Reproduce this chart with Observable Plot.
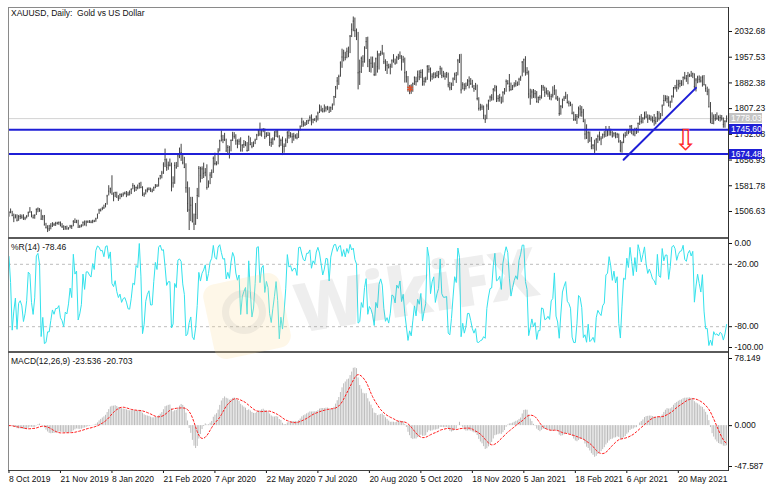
<!DOCTYPE html>
<html><head><meta charset="utf-8">
<script src="https://cdn.jsdelivr.net/npm/d3@7"></script>
<script src="https://cdn.jsdelivr.net/npm/@observablehq/plot@0.6"></script>
<style>
html,body{margin:0;padding:0;background:#fff;}
#wrap{position:relative;width:771px;height:489px;overflow:hidden;font-family:"Liberation Sans",Arial,sans-serif;}
.p{position:absolute;left:0;}
.ln{position:absolute;}
.lbl{position:absolute;font-size:8.5px;color:#111;white-space:pre;line-height:10px;}
.box{position:absolute;font-size:8.5px;color:#fff;white-space:pre;line-height:10px;height:10px;width:31px;padding-left:2px;}
</style></head><body><div id="wrap"></div>
<script>
// ---- data: daily XAUUSD bars, 8 Oct 2019 .. 1 Jul 2021 (one line = 32 bars) ----
const high = [
1506,1514,1507,1499,1497,1497,1495,1497,1496,1497,1490,1495,1505,1518,1506,1496,1497,1514,1517,1515,1511,1495,1495,1472,1465,1466,1471,1474,1472,1475,1475,1476,
1476,1471,1465,1463,1464,1459,1466,1466,1480,1485,1481,1481,1466,1468,1476,1479,1479,1479,1480,1479,1481,1481,1487,1499,1513,1514,1519,1525,1530,1554,1582,1575,
1611,1561,1563,1563,1553,1558,1558,1561,1563,1565,1563,1567,1573,1588,1583,1578,1584,1589,1592,1579,1561,1570,1575,1576,1575,1572,1578,1585,1585,1604,1612,1624,
1649,1689,1660,1651,1660,1648,1608,1649,1650,1673,1692,1703,1675,1665,1646,1593,1576,1548,1548,1499,1530,1574,1638,1636,1637,1648,1632,1643,1596,1620,1628,1666,
1677,1652,1690,1715,1742,1729,1735,1718,1699,1697,1716,1738,1737,1731,1716,1718,1722,1702,1714,1711,1708,1727,1722,1708,1710,1718,1732,1745,1765,1747,1749,1748,
1737,1738,1736,1719,1722,1740,1745,1744,1728,1718,1724,1704,1719,1740,1745,1737,1734,1735,1731,1734,1746,1757,1779,1771,1767,1772,1774,1786,1789,1776,1778,1786,
1797,1818,1815,1808,1818,1813,1814,1812,1812,1821,1843,1872,1898,1905,1944,1981,1978,1972,1984,1987,2021,2055,2075,2072,2040,2030,1949,1958,1962,1988,2015,2016,
1951,1958,1958,1941,1955,1975,1968,1975,1992,1970,1950,1945,1937,1937,1950,1965,1952,1960,1966,1973,1962,1960,1955,1916,1901,1875,1877,1882,1900,1899,1917,1918,
1920,1921,1897,1899,1933,1933,1926,1909,1912,1912,1916,1916,1931,1926,1916,1911,1913,1911,1884,1882,1897,1911,1913,1951,1965,1966,1883,1880,1882,1892,1900,1895,
1890,1875,1881,1876,1839,1820,1818,1815,1788,1820,1832,1844,1848,1866,1875,1873,1845,1849,1841,1857,1866,1891,1889,1907,1882,1875,1883,1889,1885,1896,1902,1945,
1952,1959,1927,1917,1864,1862,1863,1860,1857,1841,1845,1875,1875,1870,1867,1860,1856,1849,1871,1875,1862,1843,1838,1816,1835,1843,1855,1848,1829,1826,1820,1797,
1790,1790,1812,1816,1813,1805,1775,1760,1740,1739,1723,1702,1715,1720,1730,1739,1725,1733,1740,1755,1745,1755,1747,1740,1737,1737,1735,1733,1714,1710,1733,1738,
1746,1745,1758,1758,1746,1750,1750,1765,1785,1790,1781,1797,1798,1789,1788,1786,1783,1790,1782,1799,1798,1793,1818,1846,1845,1844,1842,1829,1845,1869,1875,1890,
1890,1890,1889,1900,1913,1904,1913,1908,1916,1911,1909,1895,1902,1903,1900,1903,1904,1877,1870,1864,1825,1795,1789,1790,1795,1786,1788,1787,1780,1772,1786
];
const low = [
1490,1500,1492,1474,1485,1476,1478,1483,1484,1481,1480,1485,1490,1502,1488,1485,1484,1495,1503,1504,1481,1480,1465,1456,1445,1448,1453,1460,1463,1463,1467,1466,
1462,1457,1451,1452,1453,1452,1456,1454,1462,1472,1471,1459,1457,1459,1462,1464,1462,1472,1472,1471,1471,1474,1475,1484,1498,1505,1509,1513,1517,1525,1552,1558,
1555,1535,1547,1546,1536,1541,1547,1549,1555,1547,1551,1552,1556,1570,1563,1565,1570,1572,1574,1551,1548,1555,1561,1567,1563,1561,1565,1573,1577,1578,1599,1602,
1615,1635,1624,1627,1637,1564,1575,1586,1630,1635,1661,1653,1643,1632,1560,1504,1451,1477,1473,1451,1466,1483,1547,1590,1600,1603,1608,1569,1575,1585,1603,1618,
1640,1640,1643,1681,1710,1705,1711,1680,1673,1660,1681,1711,1718,1700,1690,1700,1680,1680,1691,1696,1680,1682,1699,1690,1694,1702,1714,1725,1726,1724,1737,1717,
1722,1726,1697,1694,1700,1713,1723,1721,1693,1697,1670,1677,1694,1705,1718,1721,1705,1712,1718,1716,1720,1742,1752,1753,1755,1758,1761,1769,1757,1763,1770,1766,
1771,1793,1797,1795,1795,1797,1801,1795,1796,1802,1815,1837,1862,1875,1899,1925,1944,1947,1953,1956,1968,2015,2032,2015,2006,1862,1875,1910,1928,1940,1980,1929,
1913,1911,1925,1901,1902,1911,1920,1960,1963,1936,1916,1907,1923,1906,1925,1940,1934,1937,1948,1951,1917,1940,1882,1882,1855,1848,1849,1855,1875,1873,1883,1889,
1895,1873,1873,1882,1890,1911,1885,1890,1894,1895,1897,1895,1905,1895,1897,1890,1896,1868,1859,1860,1872,1889,1881,1903,1939,1850,1862,1858,1862,1872,1865,1875,
1867,1855,1860,1830,1800,1800,1802,1775,1764,1775,1802,1826,1829,1830,1856,1825,1826,1826,1820,1824,1847,1855,1876,1856,1858,1860,1868,1870,1872,1874,1887,1900,
1911,1902,1905,1836,1817,1835,1837,1836,1823,1822,1830,1835,1858,1840,1847,1840,1832,1830,1838,1846,1832,1828,1785,1788,1807,1828,1834,1821,1812,1813,1789,1770,
1770,1761,1778,1783,1782,1766,1716,1717,1705,1710,1687,1687,1676,1683,1705,1712,1699,1718,1721,1723,1725,1727,1727,1721,1724,1719,1720,1706,1678,1677,1705,1721,
1726,1731,1735,1731,1727,1725,1732,1735,1758,1762,1763,1774,1778,1764,1773,1769,1765,1756,1760,1767,1771,1776,1784,1814,1827,1822,1813,1808,1823,1838,1862,1855,
1862,1868,1872,1873,1891,1884,1877,1898,1899,1895,1864,1856,1880,1882,1882,1870,1874,1855,1845,1810,1763,1761,1760,1770,1773,1770,1768,1771,1750,1750,1766
];
const close = [
1504,1505,1494,1488,1493,1481,1491,1492,1490,1484,1487,1492,1503,1505,1493,1488,1495,1513,1514,1510,1484,1491,1467,1459,1456,1456,1464,1471,1468,1472,1472,1474,
1465,1462,1455,1462,1455,1458,1464,1463,1477,1475,1476,1460,1462,1465,1475,1470,1476,1476,1475,1475,1479,1478,1485,1498,1511,1510,1515,1517,1528,1552,1566,1573,
1557,1553,1562,1548,1545,1556,1551,1557,1560,1558,1557,1563,1571,1582,1567,1577,1576,1589,1576,1553,1557,1567,1570,1572,1566,1566,1576,1584,1581,1602,1611,1619,
1643,1658,1635,1642,1642,1585,1590,1641,1636,1669,1673,1679,1649,1635,1576,1530,1511,1525,1477,1470,1498,1553,1633,1612,1631,1618,1621,1577,1591,1613,1620,1662,
1647,1645,1683,1713,1727,1716,1717,1683,1694,1686,1714,1730,1726,1713,1706,1712,1686,1700,1702,1705,1685,1725,1702,1697,1702,1715,1730,1743,1733,1745,1747,1725,
1734,1729,1709,1708,1718,1729,1739,1726,1699,1714,1684,1697,1714,1737,1728,1729,1725,1727,1727,1722,1743,1754,1768,1762,1762,1771,1772,1781,1769,1775,1774,1783,
1794,1809,1803,1798,1802,1809,1809,1796,1810,1817,1842,1871,1888,1901,1941,1958,1970,1957,1975,1969,2019,2039,2063,2035,2028,1912,1915,1954,1944,1985,2003,1930,
1946,1940,1929,1907,1953,1930,1964,1968,1970,1944,1930,1934,1928,1931,1947,1946,1940,1956,1955,1961,1944,1950,1912,1900,1863,1868,1862,1880,1898,1886,1906,1900,
1913,1877,1887,1893,1930,1922,1892,1902,1908,1899,1904,1907,1924,1904,1902,1902,1907,1877,1868,1879,1894,1908,1904,1947,1951,1862,1877,1866,1873,1888,1888,1880,
1871,1866,1871,1837,1808,1811,1812,1788,1776,1815,1830,1841,1839,1863,1870,1839,1837,1840,1826,1854,1864,1887,1881,1872,1863,1870,1876,1880,1877,1893,1898,1943,
1950,1918,1913,1850,1844,1856,1845,1851,1828,1840,1840,1871,1870,1855,1856,1850,1844,1843,1847,1860,1838,1835,1793,1814,1833,1838,1842,1825,1823,1819,1794,1775,
1775,1784,1808,1806,1797,1770,1733,1723,1737,1712,1697,1700,1683,1716,1726,1722,1719,1731,1731,1745,1736,1745,1738,1727,1734,1725,1732,1712,1685,1708,1729,1728,
1744,1737,1755,1744,1733,1747,1736,1764,1777,1770,1778,1794,1783,1777,1780,1777,1773,1772,1769,1792,1779,1785,1815,1831,1836,1836,1815,1826,1843,1867,1869,1869,
1877,1881,1882,1898,1897,1895,1903,1906,1903,1909,1872,1891,1898,1893,1888,1898,1877,1866,1858,1812,1774,1764,1783,1778,1779,1776,1781,1779,1761,1770,1778
];
const dateTickBars = [0,32,64,96,128,160,192,224,256,288,320,352,384,416];
const dateTickLabels = ["8 Oct 2019","21 Nov 2019","8 Jan 2020","21 Feb 2020","7 Apr 2020","22 May 2020","7 Jul 2020","20 Aug 2020","5 Oct 2020","18 Nov 2020","5 Jan 2021","18 Feb 2021","6 Apr 2021","20 May 2021"];
const priceTicks = [2032.68,1957.53,1882.38,1807.23,1732.08,1656.93,1581.78,1506.63];
const levelLines = [1745.60,1674.48];
const bidPrice = 1778.03;
const trendBars = [382,427];
const trendPrices = [1658,1868];
const arrowPoint = [420.5,1713];
const markerPoint = [249.3,1866];
const wrTicks = [0,-20,-80,-100];
const wrLevels = [-20,-80];
const macdTicks = [78.149,0,-47.587];

// ---- indicators derived from the bars ----
function ema(a,p){const k=2/(p+1);const o=[a[0]];for(let i=1;i<a.length;i++)o.push(a[i]*k+o[i-1]*(1-k));return o;}
const e12=ema(close,12), e26=ema(close,26);
const macd=close.map((c,i)=>e12[i]-e26[i]);
const signal=macd.map((m,i)=>d3.mean(macd.slice(Math.max(0,i-8),i+1)));
const wr=close.map((c,i)=>{const s=Math.max(0,i-13);const hh=d3.max(high.slice(s,i+1)),ll=d3.min(low.slice(s,i+1));return hh===ll?-50:(hh-c)/(hh-ll)*-100;});
const bars=close.map((c,i)=>({i,h:high[i],l:low[i],c,m:macd[i],s:signal[i],r:wr[i]}));

const xDom=[-0.3,447.2];
const W=771, ML=8, MR=43;
const style={fontFamily:'"Liberation Sans",Arial,sans-serif',fontSize:"8.5px",color:"#111",background:"transparent",overflow:"visible"};
const blue="#1f1fd6";
const wrap=document.getElementById("wrap");
function place(el,top){el.classList.add("p");el.style.top=top+"px";wrap.appendChild(el);return el;}

// price panel
const price=Plot.plot({width:W,height:240,marginLeft:ML,marginRight:MR,marginTop:7,marginBottom:3,style,
  x:{domain:xDom,axis:null},y:{domain:[1430.6,2102.8]},
  marks:[
    Plot.ruleY([bidPrice],{stroke:"#d2d2d2"}),
    Plot.ruleX(bars,{x:"i",y1:"l",y2:"h",stroke:"#444",strokeWidth:1}),
    Plot.ruleY(bars,{y:"c",x1:"i",x2:d=>d.i+0.6,stroke:"#444",strokeWidth:1}),
    Plot.ruleY(levelLines,{stroke:blue,strokeWidth:2}),
    Plot.line(trendBars.map((b,k)=>({x:b,y:trendPrices[k]})),{x:"x",y:"y",stroke:blue,strokeWidth:2}),
    Plot.text([arrowPoint],{x:d=>d[0],y:d=>d[1],text:()=>"\u21E9",fill:"#ff2a2a",fontSize:29,fontFamily:"DejaVu Sans"}),
    Plot.dot([markerPoint],{x:d=>d[0],y:d=>d[1],symbol:"asterisk",stroke:"#e0502a",r:3,strokeWidth:1.5}),
    Plot.axisY(priceTicks,{anchor:"right",label:null,tickSize:3,tickPadding:3,tickFormat:d=>d.toFixed(2)})
  ]});
place(price,0);
{
  const ys=price.scale("y");
  const boxes=[[bidPrice,"#c4c4c4"],[levelLines[0],blue],[levelLines[1],blue]];
  for(const [v,col] of boxes){
    const y=ys.apply(v);
    const d=document.createElement("div");d.className="box";
    Object.assign(d.style,{left:(W-MR+1)+"px",top:(y-5)+"px",background:col});
    d.textContent=v.toFixed(2);wrap.appendChild(d);
  }
}

// %R panel
const wrPlot=Plot.plot({width:W,height:112,marginLeft:ML,marginRight:MR,marginTop:4,marginBottom:4,style,
  x:{domain:xDom,axis:null},y:{domain:[-100,0]},
  marks:[
    Plot.ruleY(wrLevels,{stroke:"#bdbdbd",strokeDasharray:"3,3"}),
    Plot.line(bars,{x:"i",y:"r",stroke:"#33e2ec",strokeWidth:1}),
    Plot.axisY(wrTicks,{anchor:"right",label:null,tickSize:3,tickPadding:3,tickFormat:d=>d.toFixed(2)})
  ]});
place(wrPlot,239);

// MACD panel
const macdPlot=Plot.plot({width:W,height:117,marginLeft:ML,marginRight:MR,marginTop:5,marginBottom:4,style,
  x:{domain:xDom,axis:null},y:{domain:[-47.587,78.149]},
  marks:[
    Plot.ruleX(bars,{x:"i",y1:0,y2:"m",stroke:"#bcbcbc",strokeWidth:1}),
    Plot.line(bars,{x:"i",y:"s",stroke:"#ff1a1a",strokeWidth:1,strokeDasharray:"2,2"}),
    Plot.axisY(macdTicks,{anchor:"right",label:null,tickSize:3,tickPadding:3,tickFormat:d=>d.toFixed(3)})
  ]});
place(macdPlot,353);

// date axis
const tickMap=new Map(dateTickBars.map((b,k)=>[b,dateTickLabels[k]]));
const xPlot=Plot.plot({width:W,height:19,marginLeft:ML,marginRight:MR,marginTop:0,marginBottom:19,style,
  x:{domain:xDom},
  marks:[Plot.axisX(dateTickBars,{anchor:"bottom",label:null,tickSize:3,tickPadding:2,textAnchor:"start",tickFormat:d=>tickMap.get(d)})]});
place(xPlot,470);

// panel frames
function line(l,t,w,h,c){const d=document.createElement("div");d.className="ln";Object.assign(d.style,{left:l+"px",top:t+"px",width:w+"px",height:h+"px",background:c});wrap.appendChild(d);}
line(8,7,720,1,"#8a8a8a");
line(8,7,1,463,"#8a8a8a");
line(8,237,720,2,"#5a5a5a");
line(8,351,720,2,"#5a5a5a");
line(8,470,720,1,"#404040");
line(728,7,1,464,"#303030");

// titles
function lbl(t,l,top){const d=document.createElement("div");d.className="lbl";d.style.left=l+"px";d.style.top=top+"px";d.textContent=t;wrap.appendChild(d);}
lbl("XAUUSD, Daily:  Gold vs US Dollar",11,8);
lbl("%R(14) -78.46",11,242);
lbl("MACD(12,26,9) -23.536 -20.703",11,356);

// watermark
const logo=document.createElement("div");
Object.assign(logo.style,{position:"absolute",left:"208px",top:"278px",width:"78px",height:"76px",borderRadius:"12px",background:"rgba(252,220,150,0.22)",transform:"rotate(-12deg)"});
wrap.appendChild(logo);
const ring=document.createElement("div");
Object.assign(ring.style,{position:"absolute",left:"222px",top:"290px",width:"44px",height:"44px",borderRadius:"50%",border:"7px solid rgba(150,150,150,0.13)",boxSizing:"border-box"});
wrap.appendChild(ring);
const wm=document.createElement("div");
wm.textContent="WikiFX";
Object.assign(wm.style,{position:"absolute",left:"300px",top:"273px",fontFamily:'"Open Sans",sans-serif',fontWeight:"800",fontSize:"68px",color:"rgba(140,140,140,0.15)",transform:"rotate(-9deg)",transformOrigin:"left bottom",whiteSpace:"nowrap",lineHeight:"68px"});
wrap.appendChild(wm);
</script></body></html>
